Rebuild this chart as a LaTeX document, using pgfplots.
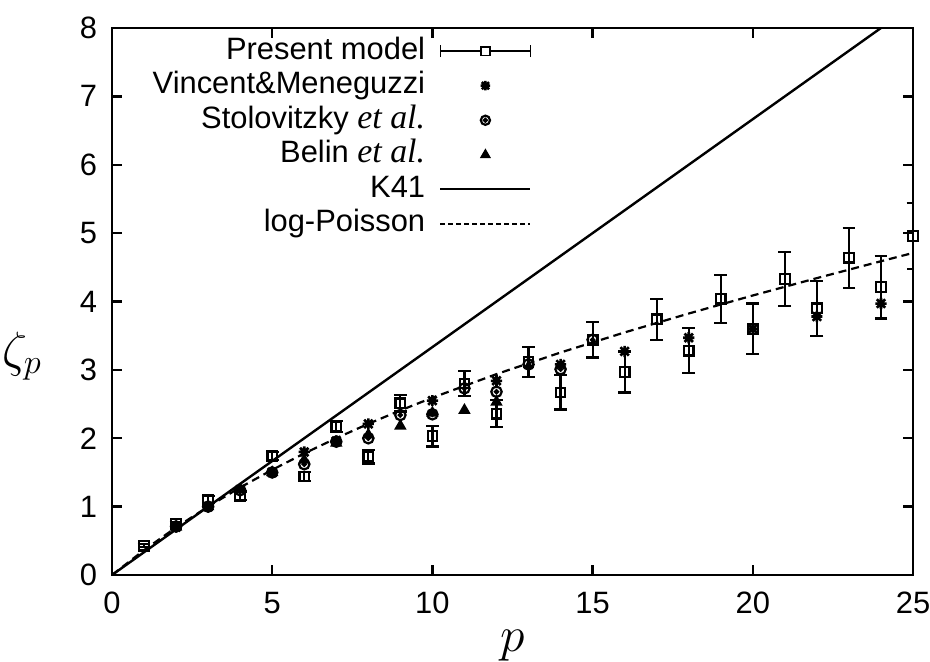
\documentclass[border=0pt]{standalone}
\usepackage{pgfplots}
\pgfplotsset{compat=1.18}
\usepackage{fontspec}
\setmainfont{Liberation Sans}
\newfontfamily\seriffont{Liberation Serif}
\pgfdeclareplotmark{gstar}{%
 \pgfpathmoveto{\pgfqpoint{-\pgfplotmarksize}{0pt}}\pgfpathlineto{\pgfqpoint{\pgfplotmarksize}{0pt}}%
 \pgfpathmoveto{\pgfqpoint{0pt}{-\pgfplotmarksize}}\pgfpathlineto{\pgfqpoint{0pt}{\pgfplotmarksize}}%
 \pgfpathmoveto{\pgfqpoint{-.75\pgfplotmarksize}{-.75\pgfplotmarksize}}\pgfpathlineto{\pgfqpoint{.75\pgfplotmarksize}{.75\pgfplotmarksize}}%
 \pgfpathmoveto{\pgfqpoint{-.75\pgfplotmarksize}{.75\pgfplotmarksize}}\pgfpathlineto{\pgfqpoint{.75\pgfplotmarksize}{-.75\pgfplotmarksize}}%
 \pgfusepathqstroke}
\pgfdeclareplotmark{odot}{%
 \pgfpathcircle{\pgfpointorigin}{\pgfplotmarksize}\pgfusepathqstroke
 \pgfpathcircle{\pgfpointorigin}{0.3\pgfplotmarksize}\pgfusepathqfillstroke}
\pgfplotsset{
  img present/.style={legend image code/.code={%
    \draw[black, line width=0.9bp] (0bp,0bp) -- (45bp,0bp);
    \draw[black, line width=0.9bp] (0bp,-3bp) -- (0bp,3bp);
    \draw[black, line width=0.9bp] (45bp,-3bp) -- (45bp,3bp);
    \draw[black, line width=0.9bp, fill=white] (20.3bp,-2.2bp) rectangle (24.7bp,2.2bp);}},
  img vin/.style={legend image code/.code={%
    \draw[black, mark=gstar, mark size=2.4bp, line width=1.3bp] plot coordinates {(22.5bp,0bp)};
    \path (0bp,0bp) (45bp,0bp);}},
  img sto/.style={legend image code/.code={%
    \draw[black, mark=odot, mark size=2.3bp, line width=1.1bp] plot coordinates {(22.5bp,0bp)};
    \path (0bp,0bp) (45bp,0bp);}},
  img bel/.style={legend image code/.code={%
    \draw[black, fill=black, mark=triangle*, mark size=2.4bp, line width=0.8bp] plot coordinates {(22.5bp,0bp)};
    \path (0bp,0bp) (45bp,0bp);}},
  img k41/.style={legend image code/.code={%
    \draw[black, line width=1bp] (0bp,0bp) -- (45bp,0bp);}},
  img lp/.style={legend image code/.code={%
    \draw[black, line width=0.8bp, dash pattern=on 2.5bp off 1.5bp] (0bp,0bp) -- (45bp,0bp);}},
}
\pgfplotstableread{
p z e
1 0.43 0.02
2 0.75 0.03
3 1.10 0.05
4 1.16 0.06
5 1.74 0.06
6 1.44 0.07
7 2.17 0.08
8 1.73 0.10
9 2.51 0.12
10 2.03 0.15
11 2.80 0.18
12 2.36 0.20
13 3.12 0.22
14 2.67 0.25
15 3.44 0.26
16 2.97 0.30
17 3.74 0.30
18 3.28 0.33
19 4.04 0.35
20 3.60 0.37
21 4.33 0.39
22 3.90 0.40
23 4.64 0.44
24 4.21 0.46
25 4.96 0.48
}\present
\pgfplotstableread{
p z
2 0.70
3 1.00
4 1.25
5 1.50
6 1.80
7 1.96
8 2.21
10 2.55
12 2.84
14 3.08
16 3.27
18 3.47
20 3.60
22 3.78
24 3.97
}\vincent
\pgfplotstableread{
p z
2 0.71
3 1.00
4 1.24
5 1.50
6 1.62
7 1.95
8 2.00
9 2.34
10 2.35
11 2.73
12 2.68
13 3.08
14 3.01
15 3.44
}\stolo
\pgfplotstableread{
p z
2 0.70
3 1.00
4 1.25
5 1.50
6 1.68
7 1.93
8 2.05
9 2.18
10 2.37
11 2.41
12 2.53
}\belin
\pgfplotstableread{
p z
0 0
1 0.364
2 0.696
3 1.000
4 1.280
5 1.538
6 1.778
7 2.001
8 2.211
9 2.407
10 2.593
12 2.938
14 3.254
16 3.548
18 3.824
20 4.088
22 4.342
24 4.589
25 4.710
}\logp
\begin{document}
\begin{tikzpicture}
\begin{axis}[
  name=ax,
  scale only axis,
  width=400.5bp, height=273.5bp,
  xmin=0, xmax=25, ymin=0, ymax=8,
  xtick={0,5,...,25}, ytick={0,1,...,8},
  tick align=inside,
  major tick length=5bp,
  axis line style={line width=1.4bp},
  every tick/.style={line width=1.2bp, black},
  /pgf/number format/assume math mode=true,
  tick label style={font=\fontsize{15.5}{18}\selectfont},
  xticklabel style={yshift=-5bp},
  yticklabel style={xshift=-4bp},
  xlabel={$p$},
  ylabel={$\zeta_p$},
  every axis x label/.style={at={(axis description cs:0.5,-0.13)}, anchor=center, font=\fontsize{24}{28}\selectfont},
  every axis y label/.style={at={(axis description cs:-0.112,0.40)}, anchor=center, font=\fontsize{24}{28}\selectfont},
  legend cell align=right,
  legend plot pos=right,
  legend style={draw=none, fill=none, at={(axis description cs:0.527,0.995)}, anchor=north east,
    font=\fontsize{15.5}{17}\selectfont, row sep=-0.7bp, inner sep=1pt,
    nodes={text height=11bp, text depth=3bp},
    /tikz/every odd column/.append style={column sep=5bp}},
]
\addplot[black, mark=square, mark size=2.4bp, line width=1.1bp, only marks, img present,
  error bars/.cd, y dir=both, y explicit,
  error bar style={line width=1.1bp, black},
  error mark options={rotate=90, mark size=3.2bp, line width=1.1bp, black}]
  table[x=p, y=z, y error=e] {\present};
\addlegendentry{Present model}
\addplot[black, only marks, mark=gstar, mark size=2.8bp, line width=1.3bp, img vin]
  table[x=p,y=z] {\vincent};
\addlegendentry{Vincent\&Meneguzzi}
\addplot[black, only marks, mark=odot, mark size=2.6bp, line width=1.1bp, img sto]
  table[x=p,y=z] {\stolo};
\addlegendentry{Stolovitzky {\seriffont\itshape\fontsize{17}{18}\selectfont et al.}}
\addplot[black, only marks, mark=triangle*, mark size=2.8bp, line width=0.8bp, img bel]
  table[x=p,y=z] {\belin};
\addlegendentry{Belin {\seriffont\itshape\fontsize{17}{18}\selectfont et al.}}
\addplot[black, line width=1.2bp, no marks, img k41]
  coordinates {(0,0) (24,8)};
\addlegendentry{K41}
\addplot[black, line width=1.1bp, no marks, dash pattern=on 4bp off 2.5bp, img lp]
  table[x=p,y=z] {\logp};
\addlegendentry{log-Poisson}
\end{axis}
\pgfresetboundingbox
\path ([shift={(-56bp,-43.5bp)}]ax.south west) rectangle ([shift={(8.5bp,14bp)}]ax.north east);
\end{tikzpicture}
\end{document}
